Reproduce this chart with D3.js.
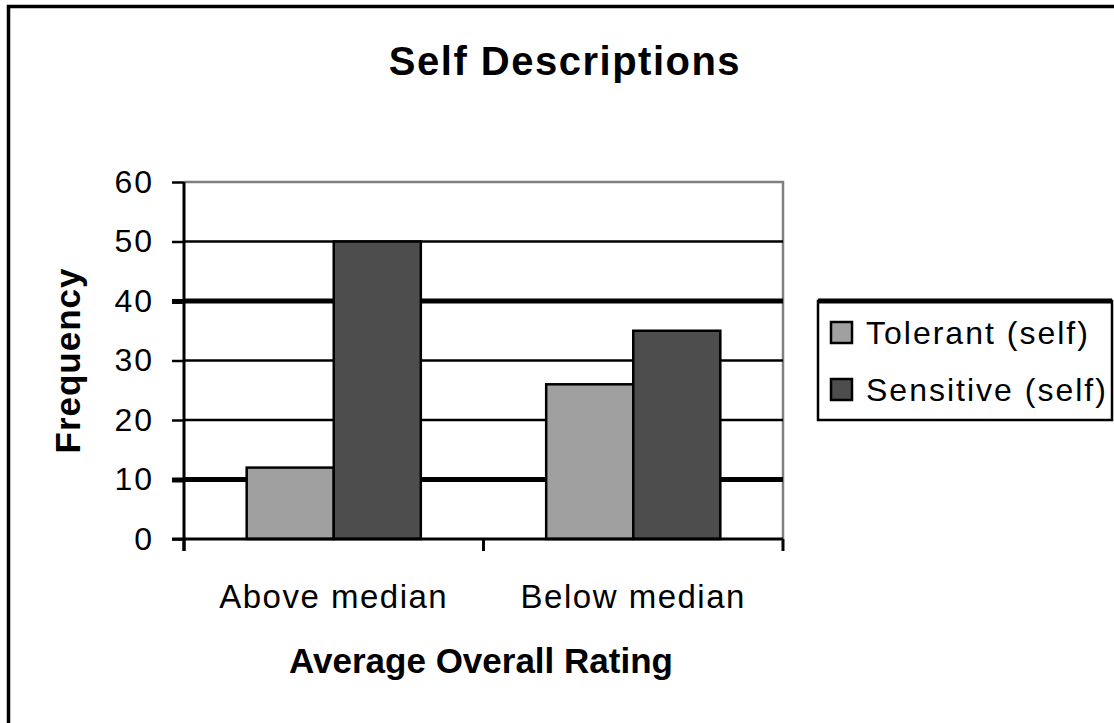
<!DOCTYPE html>
<html>
<head>
<meta charset="utf-8">
<script src="https://cdn.jsdelivr.net/npm/d3@7"></script>
<style>
    html, body { margin: 0; padding: 0; background: #fff; }
    svg { display: block; font-family: "Liberation Sans", Arial, sans-serif; }
</style>
</head>
<body>
<div id="chart"></div>
<script>
// Chart data
const categories  = ["Above median", "Below median"];
const seriesNames = ["Tolerant (self)", "Sensitive (self)"];
const tolerant    = [12, 26];
const sensitive   = [50, 35];
const yTicks      = [0, 10, 20, 30, 40, 50, 60];

const WIDTH  = 1114;
const HEIGHT = 723;
const COLORS = ["#a0a0a0", "#4d4d4d"];

// Plot area
const plot = { left: 184, right: 783, top: 182, bottom: 539 };

const svg = d3.select("#chart")
    .append("svg")
    .attr("width", WIDTH)
    .attr("height", HEIGHT);

// Outer chart frame
svg.append("rect")
    .attr("x", 8.5)
    .attr("y", 6.5)
    .attr("width", WIDTH + 20)
    .attr("height", HEIGHT + 20)
    .attr("fill", "#fff")
    .attr("stroke", "#000")
    .attr("stroke-width", 3.5);

const y = d3.scaleLinear()
    .domain([0, 60])
    .range([plot.bottom, plot.top]);

const x = d3.scaleBand()
    .domain(categories)
    .range([plot.left, plot.right])
    .padding(0);

const xSub = d3.scaleBand()
    .domain(seriesNames)
    .range([0, x.bandwidth()])
    .paddingInner(0)
    .paddingOuter(0.72);

// Plot area border (grey top and right)
svg.append("path")
    .attr("d", `M${plot.left},${plot.top}H${plot.right}V${plot.bottom}`)
    .attr("fill", "none")
    .attr("stroke", "#808080")
    .attr("stroke-width", 2.5);

// Gridlines, the 10 and 40 lines come out heavier in the original
svg.append("g")
    .selectAll("line")
    .data(yTicks.filter((d) => d > 0 && d < 60))
    .enter()
    .append("line")
    .attr("x1", plot.left)
    .attr("x2", plot.right)
    .attr("y1", (d) => y(d))
    .attr("y2", (d) => y(d))
    .attr("stroke", "#000")
    .attr("stroke-width", (d) => (d === 10 || d === 40) ? 5 : 2.5);

// Bars
const rows = categories.map((c, i) => ({
    category: c,
    values: [
        { name: seriesNames[0], value: tolerant[i], color: COLORS[0] },
        { name: seriesNames[1], value: sensitive[i], color: COLORS[1] }
    ]
}));

svg.append("g")
    .selectAll("g")
    .data(rows)
    .enter()
    .append("g")
    .attr("transform", (d) => `translate(${x(d.category)},0)`)
    .selectAll("rect")
    .data((d) => d.values)
    .enter()
    .append("rect")
    .attr("x", (d) => xSub(d.name))
    .attr("y", (d) => y(d.value))
    .attr("width", xSub.bandwidth())
    .attr("height", (d) => y(0) - y(d.value))
    .attr("fill", (d) => d.color)
    .attr("stroke", "#000")
    .attr("stroke-width", 2.5);

// Y axis
const yAxis = svg.append("g")
    .attr("transform", `translate(${plot.left},0)`)
    .call(d3.axisLeft(y).tickValues(yTicks).tickSize(12).tickPadding(18));

yAxis.select(".domain")
    .attr("d", `M0,${plot.top}V${plot.bottom + 12}`)
    .attr("stroke", "#000")
    .attr("stroke-width", 3);

yAxis.selectAll(".tick line")
    .attr("stroke", "#000")
    .attr("stroke-width", (d) => (d === 10 || d === 40) ? 5 : 2.5);

yAxis.selectAll(".tick text")
    .attr("fill", "#000")
    .attr("font-family", "'Liberation Sans', Arial, sans-serif")
    .attr("font-size", 32)
    .attr("letter-spacing", 2);

// X axis with tick marks between categories
const xAxis = svg.append("g")
    .attr("transform", `translate(0,${plot.bottom})`);

xAxis.append("line")
    .attr("x1", plot.left - 12)
    .attr("x2", plot.right)
    .attr("stroke", "#000")
    .attr("stroke-width", 3);

xAxis.selectAll("line.tick")
    .data(categories.concat([null]))
    .enter()
    .append("line")
    .attr("class", "tick")
    .attr("x1", (d) => d === null ? plot.right : x(d))
    .attr("x2", (d) => d === null ? plot.right : x(d))
    .attr("y1", 0)
    .attr("y2", 12)
    .attr("stroke", "#000")
    .attr("stroke-width", 3);

xAxis.selectAll("text")
    .data(categories)
    .enter()
    .append("text")
    .attr("x", (d) => x(d) + x.bandwidth() / 2)
    .attr("y", 69)
    .attr("text-anchor", "middle")
    .attr("font-size", 33)
    .attr("letter-spacing", 1.5)
    .text((d) => d);

// Titles
svg.append("text")
    .attr("x", 565)
    .attr("y", 75)
    .attr("text-anchor", "middle")
    .attr("font-size", 40)
    .attr("font-weight", "bold")
    .attr("letter-spacing", 1.5)
    .text("Self Descriptions");

svg.append("text")
    .attr("x", 481)
    .attr("y", 673)
    .attr("text-anchor", "middle")
    .attr("font-size", 35)
    .attr("font-weight", "bold")
    .text("Average Overall Rating");

svg.append("text")
    .attr("transform", `translate(80,${(plot.top + plot.bottom) / 2}) rotate(-90)`)
    .attr("text-anchor", "middle")
    .attr("font-size", 35)
    .attr("font-weight", "bold")
    .attr("letter-spacing", 1)
    .text("Frequency");

// Legend
const legend = svg.append("g")
    .attr("transform", "translate(818,301)");

legend.append("rect")
    .attr("width", 294)
    .attr("height", 119)
    .attr("fill", "#fff")
    .attr("stroke", "#000")
    .attr("stroke-width", 2.5);

legend.append("line")
    .attr("x1", 0)
    .attr("x2", 294)
    .attr("stroke", "#000")
    .attr("stroke-width", 5);

const items = legend.selectAll("g.item")
    .data(seriesNames)
    .enter()
    .append("g")
    .attr("class", "item")
    .attr("transform", (d, i) => `translate(13,${21 + i * 57})`);

items.append("rect")
    .attr("width", 21)
    .attr("height", 21)
    .attr("fill", (d, i) => COLORS[i])
    .attr("stroke", "#000")
    .attr("stroke-width", 2.5);

items.append("text")
    .attr("x", 35)
    .attr("y", 10)
    .attr("dy", "0.36em")
    .attr("font-size", 32)
    .attr("letter-spacing", 2)
    .text((d) => d);
</script>
</body>
</html>
